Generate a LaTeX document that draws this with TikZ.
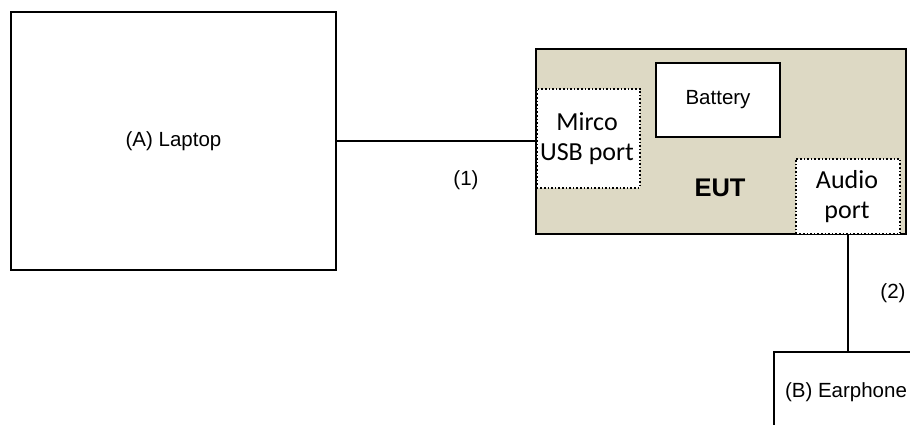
\documentclass[tikz,border=0pt]{standalone}
\usepackage{fontspec}
\setmainfont{Liberation Sans}
\newfontfamily\calfont{Carlito}
\definecolor{eutfill}{HTML}{DDD9C4}
\begin{document}
\begin{tikzpicture}[x=1pt,y=-1pt,
  box/.style={draw=black,line width=2pt,fill=white,inner sep=0pt,anchor=north west},
  port/.style={draw=black,line width=1.6pt,dotted,fill=white,inner sep=0pt,anchor=north west,align=center,font=\calfont\fontsize{26}{30}\selectfont},
  lbl/.style={font=\fontsize{20.5}{24}\selectfont},
  wire/.style={line width=2pt}]
\useasboundingbox (0,0) rectangle (910,425);
\clip (0,0) rectangle (910,425);
\node[box,minimum width=325pt,minimum height=258pt] (laptop) at (10,11) {};
\node[lbl] (laptoptxt) at (laptop.center) {(A) Laptop};
\node[box,fill=eutfill,minimum width=370pt,minimum height=185pt] (eut) at (535,48) {};
\node[box,minimum width=124pt,minimum height=74pt] (battery) at (655,62) {};
\node[lbl] (batterytxt) at (battery.center) {Battery};
\node[port,minimum width=103pt,minimum height=99pt] (usb) at (536,88) {};
\node[port,draw=none,fill=none,anchor=center] (usbtxt) at (587,139) {Mirco\\USB port};
\node[port,minimum width=104pt,minimum height=75pt] (audio) at (795,158) {};
\node[port,draw=none,fill=none,anchor=center] (audiotxt) at (847,197) {Audio\\port};
\node[font=\bfseries\fontsize{25.5}{30}\selectfont] (euttxt) at (720,188) {EUT};
\node[box,minimum width=146pt,minimum height=82pt] (ear) at (773,351) {};
\node[lbl] (eartxt) at (846,392) {(B) Earphone};
\draw[wire] (laptop.east) -- (laptop.east -| usb.west);
\draw[wire] (audio.south) -- (audio.south |- ear.north);
\node[lbl] (l1) at (466,180) {(1)};
\node[lbl] (l2) at (893,293) {(2)};
\end{tikzpicture}
\end{document}
